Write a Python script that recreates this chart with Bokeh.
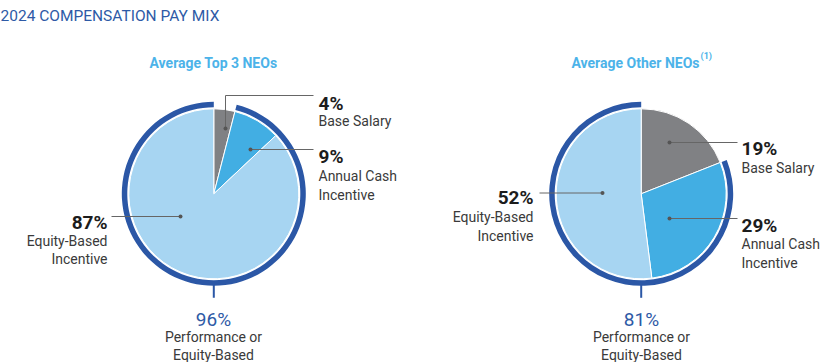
import numpy as np
from bokeh.plotting import figure
from bokeh.models import Range1d, ColumnDataSource
from bokeh.core.properties import value
from bokeh.embed import file_html
from bokeh.resources import INLINE

# ---------------- data ----------------
categories = ["Base Salary", "Annual Cash Incentive", "Equity-Based Incentive"]
top3_values = [4, 9, 87]
other_values = [19, 29, 52]
performance_share = [96, 81]
panel_titles = ["Average Top 3 NEOs", "Average Other NEOs"]
main_title = "2024 COMPENSATION PAY MIX"
label_lines = [["Base Salary"], ["Annual Cash", "Incentive"], ["Equity-Based", "Incentive"]]
perf_lines = ["Performance or", "Equity-Based"]

# ---------------- style ----------------
slice_colors = ["#808184", "#42aee3", "#a7d5f2"]
ring_color = "#2b57a6"
title_color = "#2e5aa6"
subtitle_color = "#4cb3e9"
pct_color = "#1c1c1c"
lab_color = "#3a3a3a"
lead_color = "#666666"
FONT = value("Roboto")

W, H = 820, 362
p = figure(width=W, height=H, x_range=Range1d(0, W), y_range=Range1d(-H, 0),
           output_backend="svg", toolbar_location=None, min_border=0,
           x_axis_type=None, y_axis_type=None)
p.grid.visible = False
p.outline_line_color = None
p.background_fill_color = "white"
p.border_fill_color = "white"

R = 85
RING_IN, RING_OUT = 86.5, 92


def Y(v):
    return -v


def txt(x, y, s, size, color, align="left", bold=False):
    p.text(x=[x], y=[Y(y)], text=[s], text_font=FONT, text_font_size=size,
           text_color=color, text_align=align, text_baseline="alphabetic",
           text_font_style="bold" if bold else "normal")


def pie(cx, cy, values, share):
    v = np.array(values, dtype=float)
    cum = np.concatenate([[0], np.cumsum(v)]) / v.sum()
    start = np.pi / 2 - 2 * np.pi * cum[1:]
    end = np.pi / 2 - 2 * np.pi * cum[:-1]
    src = ColumnDataSource(dict(x=[cx] * len(v), y=[Y(cy)] * len(v), s=start, e=end,
                                c=slice_colors))
    p.wedge(x="x", y="y", radius=R, start_angle="s", end_angle="e", direction="anticlock",
            fill_color="c", line_color="white", line_width=1, source=src)
    # ring covering the non-base-salary share
    p.annular_wedge(x=[cx], y=[Y(cy)], inner_radius=RING_IN, outer_radius=RING_OUT,
                    start_angle=np.pi / 2, end_angle=np.pi / 2 + 2 * np.pi * (share / 100.0),
                    direction="anticlock", fill_color=ring_color, line_color=None)
    # tick under ring
    p.line(x=[cx, cx], y=[Y(cy + RING_OUT - 1), Y(cy + 104)], line_color=ring_color, line_width=2)


def leader(xs, ys):
    p.line(x=xs, y=[Y(v) for v in ys], line_color=lead_color, line_width=1)
    p.scatter(x=[xs[0]], y=[Y(ys[0])], size=4, fill_color="#555555", line_color=None)


# ---------------- titles ----------------
txt(0, 15, main_title, "15.5px", title_color)
txt(213, 62, panel_titles[0], "14px", subtitle_color, align="center", bold=True)
txt(699, 62, panel_titles[1], "14px", subtitle_color, align="right", bold=True)
txt(700, 55, "(1)", "9px", subtitle_color, align="left", bold=True)

# ---------------- left pie ----------------
lcx, lcy = 213.3, 193.3
pie(lcx, lcy, top3_values, top3_values[1] + top3_values[2])
leader([225, 225, 313], [128, 95, 95])
leader([250, 313], [149, 149])
leader([180, 111], [216, 216])
txt(318, 103, f"{top3_values[0]}%", "19px", pct_color, bold=True)
txt(318, 120.7, label_lines[0][0], "14px", lab_color)
txt(318, 156, f"{top3_values[1]}%", "19px", pct_color, bold=True)
txt(318, 175.7, label_lines[1][0], "14px", lab_color)
txt(318, 194.3, label_lines[1][1], "14px", lab_color)
txt(107, 222, f"{top3_values[2]}%", "19px", pct_color, align="right", bold=True)
txt(107, 240, label_lines[2][0], "14px", lab_color, align="right")
txt(107, 258, label_lines[2][1], "14px", lab_color, align="right")
txt(213, 319, f"{performance_share[0]}%", "19px", title_color, align="center")
txt(213, 336.5, perf_lines[0], "14px", lab_color, align="center")
txt(213, 354, perf_lines[1], "14px", lab_color, align="center")

# ---------------- right pie ----------------
rcx, rcy = 640.7, 193.3
pie(rcx, rcy, other_values, other_values[1] + other_values[2])
leader([669, 737], [142, 142])
leader([669, 737], [218, 218])
leader([602, 539], [192.5, 192.5])
txt(741, 148, f"{other_values[0]}%", "19px", pct_color, bold=True)
txt(741, 167, label_lines[0][0], "14px", lab_color)
txt(741, 225, f"{other_values[1]}%", "19px", pct_color, bold=True)
txt(741, 243, label_lines[1][0], "14px", lab_color)
txt(741, 262, label_lines[1][1], "14px", lab_color)
txt(533, 197, f"{other_values[2]}%", "19px", pct_color, align="right", bold=True)
txt(533, 216.5, label_lines[2][0], "14px", lab_color, align="right")
txt(533, 235, label_lines[2][1], "14px", lab_color, align="right")
txt(641, 319, f"{performance_share[1]}%", "19px", title_color, align="center")
txt(641, 336.5, perf_lines[0], "14px", lab_color, align="center")
txt(641, 354, perf_lines[1], "14px", lab_color, align="center")

open("out.html", "w").write(file_html(p, INLINE))
